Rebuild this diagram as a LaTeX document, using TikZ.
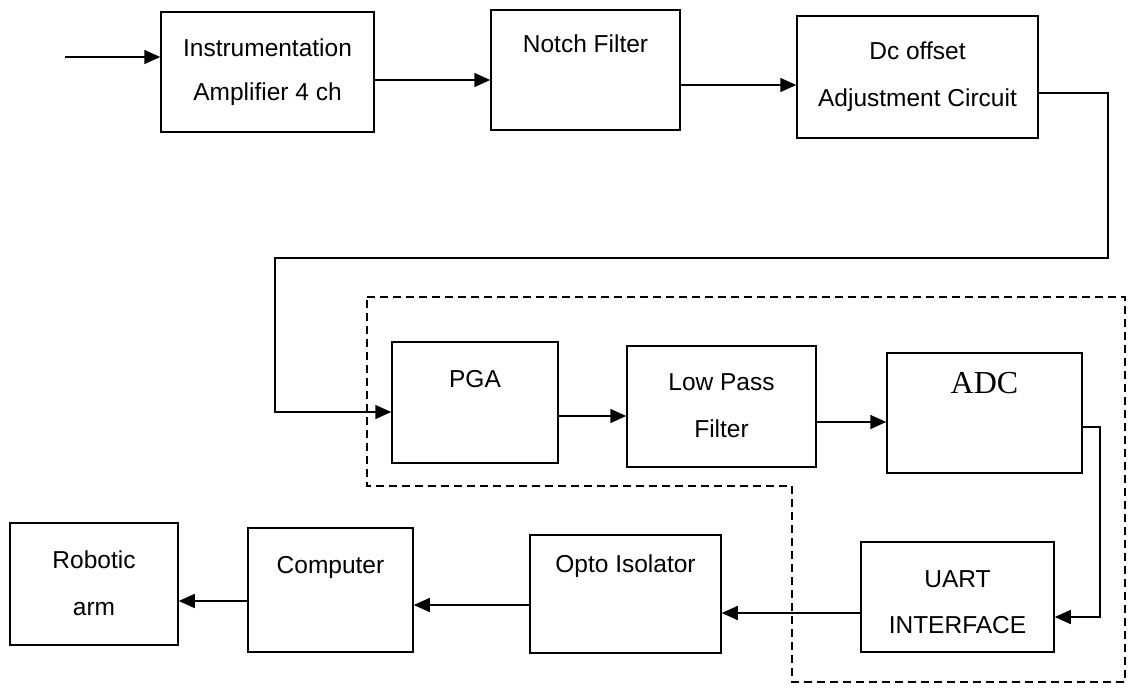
\documentclass[tikz,border=0pt]{standalone}
\usepackage{fontspec}
\setmainfont{Liberation Sans}
\newfontfamily\adcfont{Liberation Serif}
\usetikzlibrary{arrows.meta}
\begin{document}
\begin{tikzpicture}[x=1pt,y=-1pt,
  blk/.style={draw,line width=1.5pt,inner sep=0pt,rectangle},
  lbl/.style={anchor=base,inner sep=0pt,font=\fontsize{24.5}{29}\selectfont},
  conn/.style={line width=1.5pt,-{Triangle[length=16pt,width=14pt]}},
  grp/.style={line width=1.5pt,dash pattern=on 8pt off 5pt}]
\useasboundingbox (0,0) rectangle (1129,690);
% boxes
\node[blk,minimum width=213pt,minimum height=120pt] (b1) at (267.5,72) {};
\node[blk,minimum width=189pt,minimum height=120pt] (b2) at (585.5,70) {};
\node[blk,minimum width=241pt,minimum height=122pt] (b3) at (917.5,77) {};
\node[blk,minimum width=166pt,minimum height=121pt] (pga) at (475,402.5) {};
\node[blk,minimum width=189pt,minimum height=121pt] (lpf) at (721.5,406.5) {};
\node[blk,minimum width=195pt,minimum height=120pt] (adc) at (984.5,413) {};
\node[blk,minimum width=193pt,minimum height=110pt] (uart) at (957.5,597) {};
\node[blk,minimum width=191pt,minimum height=118pt] (opto) at (625.5,594) {};
\node[blk,minimum width=165pt,minimum height=124pt] (comp) at (330.5,590) {};
\node[blk,minimum width=168pt,minimum height=122pt] (robot) at (94,584) {};
% labels
\node[lbl] (t1a) at (267.5,57) {Instrumentation};
\node[lbl] (t1b) at (267.5,101) {Amplifier 4 ch};
\node[lbl] (t2) at (585.5,53) {Notch Filter};
\node[lbl] (t3a) at (917.5,60) {Dc offset};
\node[lbl] (t3b) at (917.5,107) {Adjustment Circuit};
\node[lbl] (t4) at (475,387) {PGA};
\node[lbl] (t5a) at (721.5,390) {Low Pass};
\node[lbl] (t5b) at (721.5,437) {Filter};
\node[anchor=base,inner sep=0pt,font=\adcfont\fontsize{32}{36}\selectfont] (t6) at (984.5,393) {ADC};
\node[lbl] (t7a) at (957.5,587) {UART};
\node[lbl] (t7b) at (957.5,633) {INTERFACE};
\node[lbl] (t8) at (625.5,572) {Opto Isolator};
\node[lbl] (t9) at (330.5,573) {Computer};
\node[lbl] (t10a) at (94,568) {Robotic};
\node[lbl] (t10b) at (94,615) {arm};
% connectors
\coordinate (in) at (65,57);
\draw[conn] (in) -- (b1.west |- in);
\draw[conn] (b1.east |- 0,80) -- (b2.west |- 0,80);
\draw[conn] (b2.east |- 0,85) -- (b3.west |- 0,85);
\draw[conn] (b3.east |- 0,93) -| (1108,258) -| (275,412) -- (pga.west |- 0,412);
\draw[conn] (pga.east |- 0,416) -- (lpf.west |- 0,416);
\draw[conn] (lpf.east |- 0,422) -- (adc.west |- 0,422);
\draw[conn] (adc.east |- 0,427) -| (1100,617) -- (uart.east |- 0,617);
\draw[conn] (uart.west |- 0,613) -- (opto.east |- 0,613);
\draw[conn] (opto.west |- 0,605) -- (comp.east |- 0,605);
\draw[conn] (comp.west |- 0,601) -- (robot.east |- 0,601);
% dashed group boundary
\draw[grp] (367,297) -- (1125,297) -- (1125,682) -- (792,682) -- (792,486) -- (367,486) -- cycle;
\end{tikzpicture}
\end{document}
